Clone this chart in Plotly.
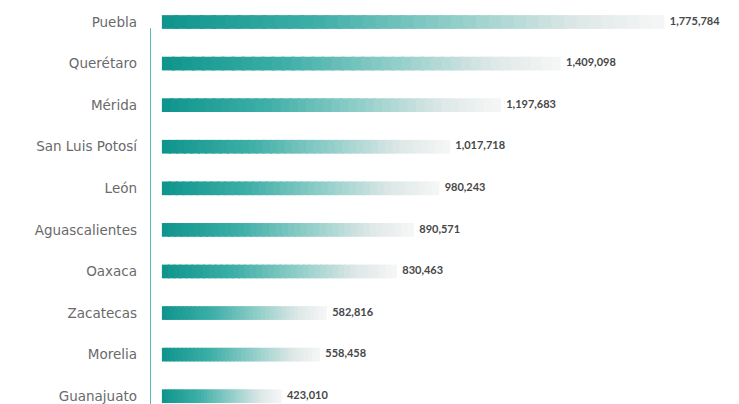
import plotly.graph_objects as go
import numpy as np

cities = ["Puebla", "Querétaro", "Mérida", "San Luis Potosí", "León",
          "Aguascalientes", "Oaxaca", "Zacatecas", "Morelia", "Guanajuato"]
values = [1775784, 1409098, 1197683, 1017718, 980243,
          890571, 830463, 582816, 558458, 423010]
value_labels = ["1,775,784", "1,409,098", "1,197,683", "1,017,718", "980,243",
                "890,571", "830,463", "582,816", "558,458", "423,010"]

# gradient stops (teal -> light grey), applied along each bar
stops = [(0.0, (14, 148, 140)), (0.3, (60, 174, 166)), (0.58, (145, 206, 201)),
         (0.82, (220, 231, 230)), (1.0, (246, 247, 247))]

def color_at(t):
    for (t0, c0), (t1, c1) in zip(stops[:-1], stops[1:]):
        if t <= t1:
            f = (t - t0) / (t1 - t0)
            c = [round(a + (b - a) * f) for a, b in zip(c0, c1)]
            return f"rgba({c[0]},{c[1]},{c[2]},0.999)"
    c = stops[-1][1]
    return f"rgba({c[0]},{c[1]},{c[2]},0.999)"

N = 40
vals = np.array(values, dtype=float)
fig = go.Figure()
for i in range(0, N):
    t = (i + 0.5) / N
    start = vals * i / N
    length = np.minimum(vals * 1.3 / N, vals - start)
    fig.add_trace(go.Bar(
        y=cities, x=length, base=start, orientation="h",
        marker=dict(color=color_at(t), line=dict(width=0)),
        width=0.33, showlegend=False, hoverinfo="skip"))

fig.add_trace(go.Scatter(
    y=cities, x=vals, mode="text", text=["  " + s for s in value_labels],
    textposition="middle right",
    textfont=dict(family="Lato", size=11, color="#474747", weight="bold"),
    showlegend=False, hoverinfo="skip"))

fig.add_shape(type="line", xref="x", yref="y", x0=-42000, x1=-42000,
              y0=0.15, y1=9.7, line=dict(color="#55bcb1", width=2))

fig.update_layout(
    width=739, height=404, barmode="overlay",
    margin=dict(l=142, r=0, t=0, b=0),
    paper_bgcolor="white", plot_bgcolor="white",
    xaxis=dict(range=[-42000, 2067500], visible=False),
    yaxis=dict(type="category", range=[9.38, -0.337], showgrid=False,
               showline=False, zeroline=False, ticks="", ticklabelstandoff=12,
               tickfont=dict(family="DejaVu Sans", size=13.5, color="#6a6a6a")),
)
fig.write_html("out.html")
